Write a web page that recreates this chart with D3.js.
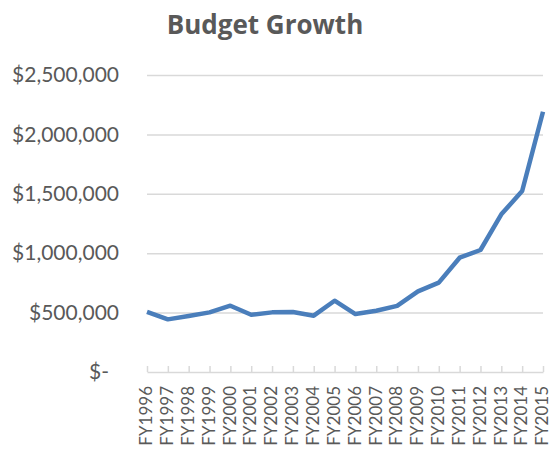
<!DOCTYPE html>
<html><head><meta charset="utf-8">
<script src="https://cdn.jsdelivr.net/npm/d3@7"></script>
<style>body{margin:0;background:#fff}svg{display:block}</style>
</head><body>
<script>
const years = ["FY1996","FY1997","FY1998","FY1999","FY2000","FY2001","FY2002","FY2003","FY2004","FY2005","FY2006","FY2007","FY2008","FY2009","FY2010","FY2011","FY2012","FY2013","FY2014","FY2015"];
const budget = [507000,443000,471000,502000,558000,482000,502000,505000,474000,600000,488000,516000,557000,679000,752000,962000,1027000,1327000,1524000,2191000];
const yTicks = [0,500000,1000000,1500000,2000000,2500000];

const W=551,H=449;
const svg=d3.select("body").append("svg").attr("width",W).attr("height",H);
const x=d3.scalePoint().domain(years).range([147,543]);
const y=d3.scaleLinear().domain([0,2500000]).range([372,75]);
const txt="#595959";

svg.append("text").attr("x",265).attr("y",34).attr("text-anchor","middle")
  .attr("font-family","Open Sans").attr("font-weight","bold").attr("font-size",26)
  .attr("fill",txt).text("Budget Growth");

const fmt=v=>v===0?"$-":"$"+d3.format(",")(v);
const ya=svg.append("g").attr("transform","translate(147,0)")
  .call(d3.axisLeft(y).tickValues(yTicks).tickSize(-396).tickFormat(fmt).tickPadding(28));
ya.select(".domain").remove();
ya.selectAll("line").attr("stroke","#d9d9d9").attr("stroke-width",1.5)
  .filter(d=>d===0).remove();
ya.selectAll("text").attr("font-family","Lato").attr("font-size",21).attr("fill",txt);
ya.selectAll(".tick").filter(d=>d===0).select("text").attr("dx",-10);

const xa=svg.append("g").attr("transform","translate(0,372)")
  .call(d3.axisBottom(x).tickSizeInner(-6).tickSizeOuter(0).tickPadding(14));
xa.select(".domain").attr("stroke","#d9d9d9").attr("stroke-width",1.5);
xa.selectAll("line").attr("stroke","#d9d9d9").attr("stroke-width",1.5);
xa.selectAll("text").attr("font-family","Lato").attr("font-size",17).attr("fill",txt)
  .attr("transform","rotate(-90)").attr("text-anchor","end").attr("dy","0.28em")
  .attr("x",-14).attr("y",0);

const line=d3.line().x((d,i)=>x(years[i])).y(d=>y(d));
svg.append("path").datum(budget).attr("d",line).attr("fill","none")
  .attr("stroke","#4a7ebb").attr("stroke-width",4.5).attr("stroke-linejoin","round");
</script>
</body></html>
